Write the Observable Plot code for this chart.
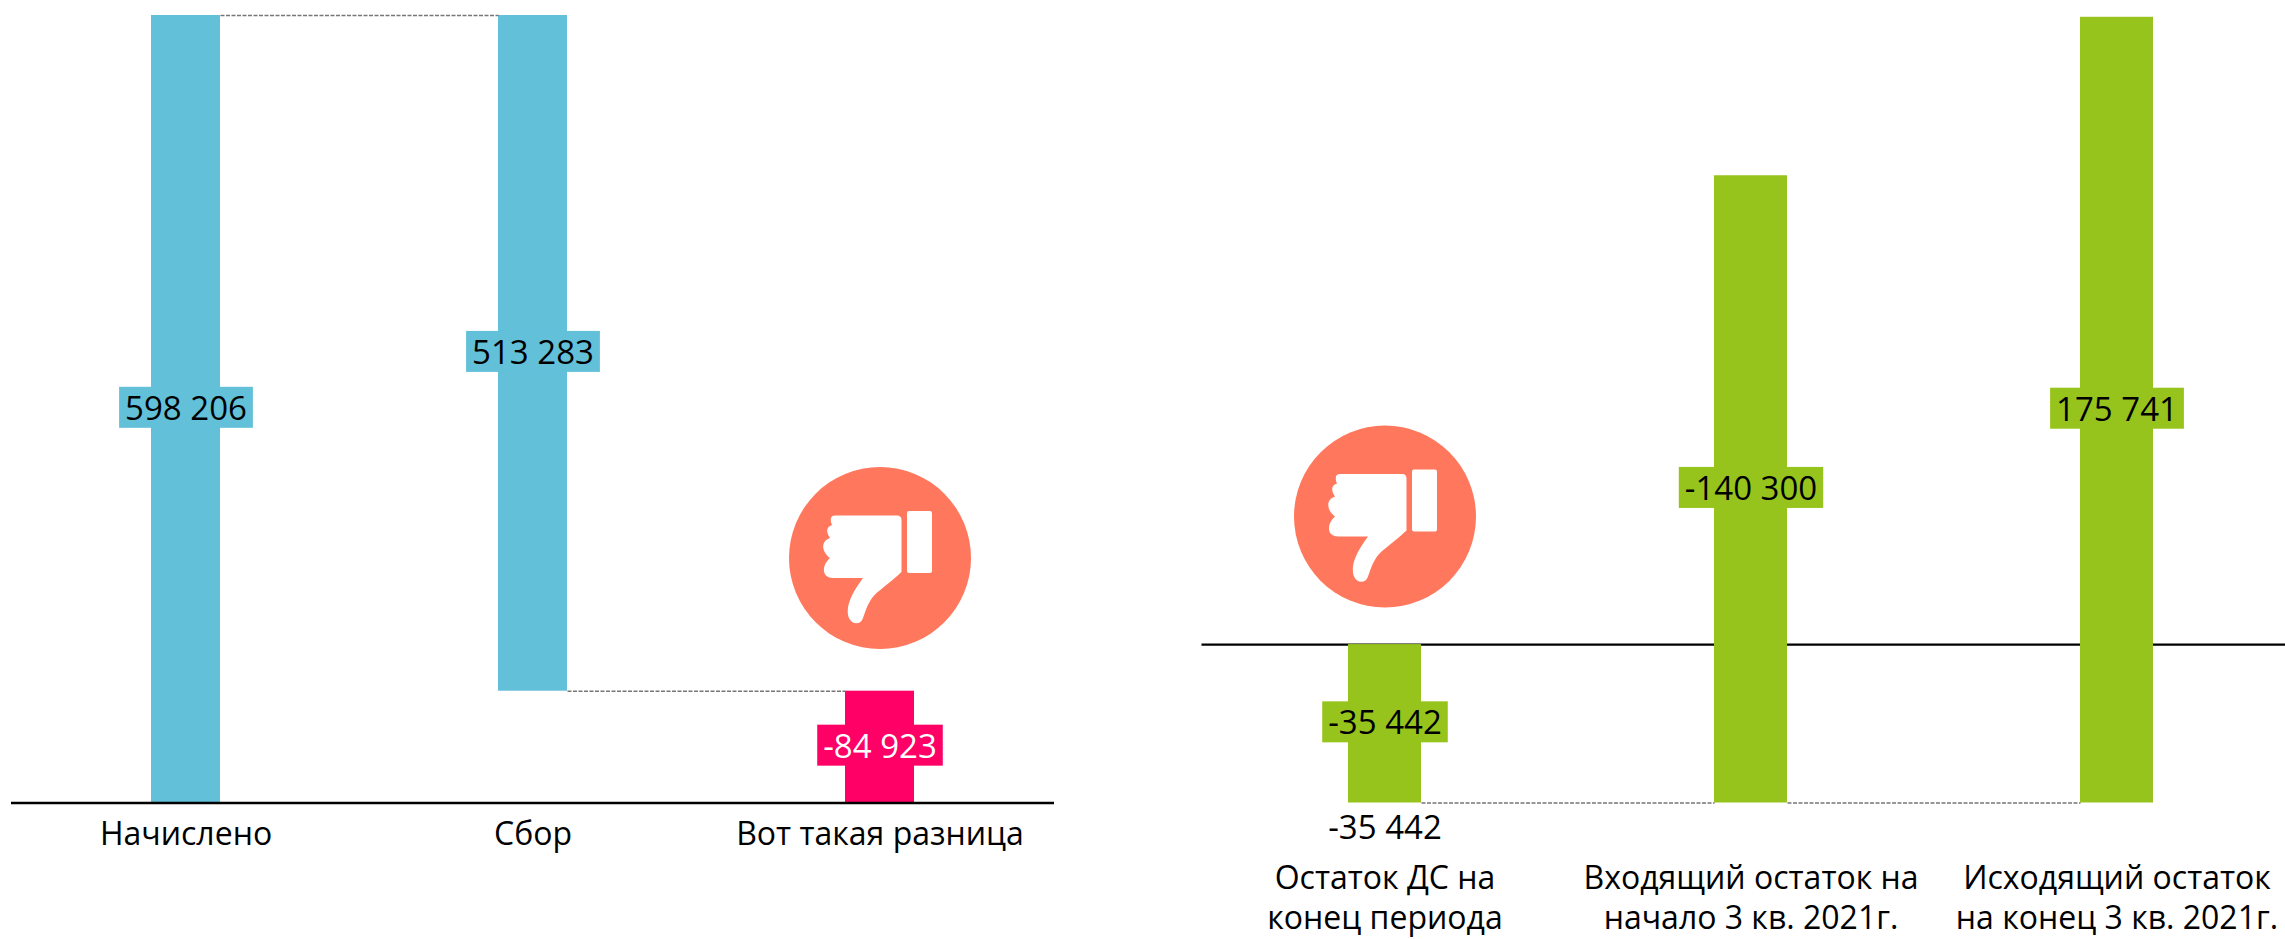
<!DOCTYPE html>
<html lang="ru">
<head>
<meta charset="utf-8">
<script src="https://cdn.jsdelivr.net/npm/d3@7"></script>
<script src="https://cdn.jsdelivr.net/npm/@observablehq/plot@0.6"></script>
<style>
html,body{margin:0;padding:0;background:#fff;overflow:hidden}
#root{display:flex;width:2285px;height:939px}
svg{display:block;overflow:hidden}
</style>
</head>
<body>
<div id="root"></div>
<script>
const BLUE = "#62C0D9", PINK = "#FF0066", GREEN = "#96C41C", CORAL = "#FF775C";
const FONT = "'Open Sans', sans-serif";

// Left chart
const leftNames  = ["Начислено", "Сбор", "Вот такая разница"];
const leftStart  = [0, 84923, 0];
const leftEnd    = [598206, 598206, 84923];
const leftLabels = ["598 206", "513 283", "-84 923"];
const leftFills  = [BLUE, BLUE, PINK];
const leftInk    = ["#000", "#000", "#fff"];

// Right chart
const rightNames  = ["Остаток ДС на\nконец периода", "Входящий остаток на\nначало 3 кв. 2021г.", "Исходящий остаток\nна конец 3 кв. 2021г."];
const rightStart  = [0, -35442, -35442];
const rightEnd    = [-35442, 104858, 140299];
const rightLabels = ["-35 442", "-140 300", "175 741"];
const rightFills  = [GREEN, GREEN, GREEN];
const rightInk    = ["#000", "#000", "#000"];

// Badge positions
const leftBadgeY = 186100;
const rightBadgeY = 28630;

const table = (names, start, end, labels, fills, ink) => names.map((name, i) => ({
  name, start: start[i], end: end[i], mid: (start[i] + end[i]) / 2, label: labels[i], fill: fills[i], ink: ink[i]
}));

const palm = {draw(c) {
  c.moveTo(-45, -42.5);
  c.lineTo(17, -42.5);
  c.quadraticCurveTo(21.5, -42.5, 21.5, -38);
  c.lineTo(21.5, 14);
  c.bezierCurveTo(8, 27, -3, 33, -8, 40);
  c.bezierCurveTo(-13, 47, -15, 55, -17, 60);
  c.bezierCurveTo(-19, 67, -28, 67, -31, 60);
  c.bezierCurveTo(-34, 52, -32, 40, -17, 20);
  c.lineTo(-47, 20);
  c.bezierCurveTo(-58, 20, -59, 8, -50, 0);
  c.bezierCurveTo(-59, -7, -59, -17, -50, -20);
  c.bezierCurveTo(-54, -26, -54, -31, -48, -33);
  c.bezierCurveTo(-50, -38, -50, -42.5, -45, -42.5);
  c.closePath();
  const x0 = 27, x1 = 52, y0 = -47, y1 = 15, r = 2;
  c.moveTo(x0 + r, y0);
  c.lineTo(x1 - r, y0);
  c.quadraticCurveTo(x1, y0, x1, y0 + r);
  c.lineTo(x1, y1 - r);
  c.quadraticCurveTo(x1, y1, x1 - r, y1);
  c.lineTo(x0 + r, y1);
  c.quadraticCurveTo(x0, y1, x0, y1 - r);
  c.lineTo(x0, y0 + r);
  c.quadraticCurveTo(x0, y0, x0 + r, y0);
  c.closePath();
}};

// Connector ends are pulled from the band centres back to the bar edges
const edgeToEdge = (index, scales, values, dimensions, context, next) => {
  const bw = scales.x.bandwidth;
  const half = (typeof bw === "function" ? bw() : bw) / 2;
  return next(index, scales, {
    ...values,
    x1: Array.from(values.x1, v => v + half),
    x2: Array.from(values.x2, v => v - half)
  }, dimensions, context);
};

function panel({data, width, marginLeft, marginRight, xRange, yDomain, yRange, badge, links, baseline, axisPadding, extra}) {
  const fontSize = 33;
  const axisFont = 32;
  return Plot.plot({
    width, height: 939,
    marginTop: 0, marginLeft, marginRight, marginBottom: 136.5,
    style: {fontFamily: FONT, fontSize: fontSize + "px", background: "#fff", overflow: "hidden"},
    x: {type: "band", domain: data.map(d => d.name), range: xRange, paddingInner: 0.8, paddingOuter: 0.4, align: 0.5, axis: null},
    y: {domain: yDomain, range: yRange, axis: null},
    color: {type: "identity"},
    marks: [
      Plot.ruleY([0], {stroke: "#000", strokeWidth: 2.2}),
      Plot.barY(data, {x: "name", y1: "start", y2: "end", fill: "fill"}),
      Plot.link(links, {x1: "from", x2: "to", y1: "y", y2: "y", stroke: "#777", strokeWidth: 1.4, strokeDasharray: "4 1.5", render: edgeToEdge}),
      baseline ? Plot.ruleY([0], {stroke: "#000", strokeWidth: 2.6}) : null,
      Plot.dot(badge, {x: "name", y: "y", r: 91, fill: CORAL}),
      Plot.dot(badge, {x: "name", y: "y", r: 40, fill: "#fff", symbol: palm}),
      Plot.text(data, {x: "name", y: "mid", text: "label", fill: "ink", fontSize, className: "value-label"}),
      extra ? Plot.text(extra, {x: "name", y: "y", text: "label", fill: "#000", fontSize, dy: 25}) : null,
      Plot.axisX({
        anchor: "bottom", tickSize: 0, tickPadding: axisPadding, fontSize: axisFont, lineHeight: 1.27,
        label: null, fill: "#000", fontVariant: "normal"
      })
    ]
  });
}

const leftData = table(leftNames, leftStart, leftEnd, leftLabels, leftFills, leftInk);
const rightData = table(rightNames, rightStart, rightEnd, rightLabels, rightFills, rightInk);

const left = panel({
  data: leftData, width: 1142, marginLeft: 11, marginRight: 88,
  xRange: [11, 1054], yDomain: [0, 598206], yRange: [802.5, 15],
  badge: [{name: leftNames[2], y: leftBadgeY}],
  links: [
    {from: leftNames[0], to: leftNames[1], y: 598206},
    {from: leftNames[1], to: leftNames[2], y: 84923}
  ],
  baseline: true, axisPadding: 13
});

const right = panel({
  data: rightData, width: 1143, marginLeft: 59.5, marginRight: 0,
  xRange: [59.5, 1157.5], yDomain: [-35442, 140299], yRange: [802.5, 16.8],
  badge: [{name: rightNames[0], y: rightBadgeY}],
  links: [
    {from: rightNames[0], to: rightNames[1], y: -35442},
    {from: rightNames[1], to: rightNames[2], y: -35442}
  ],
  baseline: false, axisPadding: 57,
  extra: [{name: rightNames[0], y: -35442, label: "-35 442"}]
});

const root = document.getElementById("root");
root.append(left, right);

// Filled plates behind the value labels, sized from the rendered text
for (const [svg, data] of [[left, leftData], [right, rightData]]) {
  const texts = svg.querySelectorAll(".value-label text");
  texts.forEach((t, i) => {
    const b = t.getBBox();
    const r = document.createElementNS("http://www.w3.org/2000/svg", "rect");
    const h = 41, cy = b.y + b.height / 2;
    r.setAttribute("x", b.x - 6);
    r.setAttribute("width", b.width + 12);
    r.setAttribute("y", cy - h / 2);
    r.setAttribute("height", h);
    r.setAttribute("fill", data[i].fill);
    if (t.getAttribute("transform")) r.setAttribute("transform", t.getAttribute("transform"));
    t.parentNode.insertBefore(r, t);
  });
}
</script>
</body>
</html>
